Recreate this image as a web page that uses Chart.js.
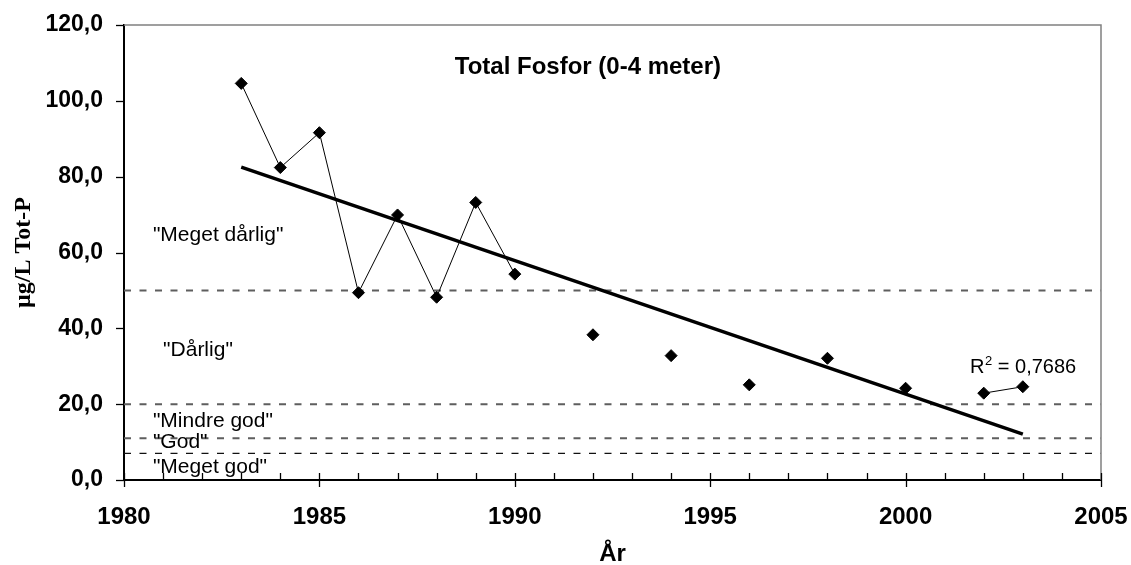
<!DOCTYPE html>
<html>
<head>
<meta charset="utf-8">
<title>Total Fosfor (0-4 meter)</title>
<script src="https://cdn.jsdelivr.net/npm/chart.js@4.4.1/dist/chart.umd.min.js"></script>
<style>
  html, body { margin: 0; padding: 0; background: #ffffff; }
  #wrap { width: 1131px; height: 565px; position: relative; }
</style>
</head>
<body>
<div id="wrap"><canvas id="chart"></canvas></div>
<script>
// Measured total phosphorus, 0-4 m, µg/L (null = no sampling that year)
const years = [1983, 1984, 1985, 1986, 1987, 1988, 1989, 1990, 1991, 1992, 1993,
               1994, 1995, 1996, 1997, 1998, 1999, 2000, 2001, 2002, 2003];
const totP  = [104.6, 82.4, 91.6, 49.4, 69.9, 48.2, 73.2, 54.3, null, 38.3, null,
               32.8, null, 25.1, null, 32.1, null, 24.2, null, 22.9, 24.6];

// Linear trend line end points
const trendYears  = [1983, 2003];
const trendValues = [82.5, 12.1];
const rSquared = '0,7686';

// Water quality class boundaries and class names (top to bottom)
const classLimits = [50, 20, 11, 7];
const classNames = ['"Meget dårlig"', '"Dårlig"', '"Mindre god"', '"God"', '"Meget god"'];

// Axis tick labels
const yTickValues = [0, 20, 40, 60, 80, 100, 120];
const yTickLabels = ['0,0', '20,0', '40,0', '60,0', '80,0', '100,0', '120,0'];
const xTickValues = [1980, 1985, 1990, 1995, 2000, 2005];
const xTickLabels = ['1980', '1985', '1990', '1995', '2000', '2005'];

const chartTitle = 'Total Fosfor (0-4 meter)';
const xTitle = 'År';
const yTitle = 'µg/L Tot-P';

const SANS = "'Liberation Sans', Arial, sans-serif";
const SERIF = "'Liberation Serif', 'Times New Roman', serif";

const seriesPoints = years.map((yr, i) => ({ x: yr, y: totP[i] }));
const trendPoints = trendYears.map((yr, i) => ({ x: yr, y: trendValues[i] }));

const limitDatasets = classLimits.map((v, i) => {
  const last = i === classLimits.length - 1;
  return {
    type: 'line',
    data: [{ x: xTickValues[0], y: v }, { x: xTickValues[xTickValues.length - 1], y: v }],
    borderColor: last ? '#111111' : '#5e5e5e',
    borderWidth: last ? 1.2 : 2,
    borderDash: [7, 8.5],
    pointRadius: 0,
    order: 5
  };
});

// Ticks, plot frame and in-plot text
const decorations = {
  id: 'decorations',
  afterDatasetsDraw(chart) {
    const { ctx, chartArea: a, scales: { x, y } } = chart;
    ctx.save();

    ctx.strokeStyle = '#808080';
    ctx.lineWidth = 1.5;
    ctx.beginPath();
    ctx.moveTo(a.left, a.top);
    ctx.lineTo(a.right, a.top);
    ctx.lineTo(a.right, a.bottom);
    ctx.stroke();

    ctx.strokeStyle = '#000000';
    ctx.lineWidth = 1.3;
    for (let yr = x.min; yr <= x.max; yr++) {
      const px = Math.round(x.getPixelForValue(yr)) + 0.5;
      ctx.beginPath();
      ctx.moveTo(px, a.bottom - 7);
      ctx.lineTo(px, a.bottom + (yr % 5 === 0 ? 7 : 0));
      ctx.stroke();
    }
    yTickValues.forEach(v => {
      const py = Math.round(y.getPixelForValue(v)) + 0.5;
      ctx.beginPath();
      ctx.moveTo(a.left - 8, py);
      ctx.lineTo(a.left, py);
      ctx.stroke();
    });

    ctx.fillStyle = '#000000';
    ctx.textBaseline = 'alphabetic';

    ctx.font = 'bold 24px ' + SANS;
    ctx.textAlign = 'center';
    ctx.fillText(chartTitle, x.getPixelForValue(1991.87), y.getPixelForValue(107.2));

    ctx.font = '21px ' + SANS;
    ctx.textAlign = 'left';
    const labelX = [1980.74, 1981.0, 1980.74, 1980.74, 1980.74];
    const labelY = [63.1, 32.7, 14.0, 8.4, 1.9];
    classNames.forEach((t, i) => {
      ctx.fillText(t, x.getPixelForValue(labelX[i]), y.getPixelForValue(labelY[i]));
    });

    // R² label
    let rx = x.getPixelForValue(2001.65);
    const ry = y.getPixelForValue(28.3);
    ctx.font = '20px ' + SANS;
    ctx.fillText('R', rx, ry);
    rx += ctx.measureText('R').width;
    ctx.font = '13px ' + SANS;
    ctx.fillText('2', rx + 0.5, ry - 8);
    rx += ctx.measureText('2').width + 0.5;
    ctx.font = '20px ' + SANS;
    ctx.fillText(' = ' + rSquared, rx, ry);

    ctx.restore();
  }
};

new Chart(document.getElementById('chart'), {
  type: 'line',
  data: {
    datasets: [
      {
        label: 'Tot-P',
        data: seriesPoints,
        borderColor: '#000000',
        backgroundColor: '#000000',
        borderWidth: 1,
        pointStyle: 'rectRot',
        pointRadius: 6,
        pointBorderWidth: 1,
        spanGaps: false,
        order: 1
      },
      {
        label: 'Trend',
        data: trendPoints,
        borderColor: '#000000',
        borderWidth: 3.5,
        pointRadius: 0,
        order: 2
      },
      ...limitDatasets
    ]
  },
  options: {
    responsive: true,
    maintainAspectRatio: false,
    animation: false,
    layout: { padding: { top: 25, right: 30, left: 0, bottom: 0 } },
    plugins: {
      legend: { display: false },
      tooltip: { enabled: false },
      title: { display: false }
    },
    elements: { line: { tension: 0 } },
    scales: {
      x: {
        type: 'linear',
        min: 1980,
        max: 2005,
        afterBuildTicks: s => { s.ticks = xTickValues.map(v => ({ value: v })); },
        ticks: {
          callback: (v) => xTickLabels[xTickValues.indexOf(v)] ?? '',
          color: '#000000',
          font: { family: SANS, size: 24, weight: 'bold' },
          padding: 23,
          maxRotation: 0,
          autoSkip: false
        },
        grid: { display: false, drawTicks: false },
        border: { display: true, color: '#000000', width: 2 },
        title: {
          display: true,
          text: xTitle,
          color: '#000000',
          font: { family: SANS, size: 24, weight: 'bold', lineHeight: 0.85 },
          padding: { top: 0, bottom: 0 }
        },
        afterFit: s => { s.height = 85; s.paddingLeft = 0; s.paddingRight = 0; }
      },
      y: {
        type: 'linear',
        min: 0,
        max: 120,
        afterBuildTicks: s => { s.ticks = yTickValues.map(v => ({ value: v })); },
        ticks: {
          callback: (v) => yTickLabels[yTickValues.indexOf(v)] ?? '',
          color: '#000000',
          font: { family: SANS, size: 23, weight: 'bold' },
          padding: 21
        },
        grid: { display: false, drawTicks: false },
        border: { display: true, color: '#000000', width: 2 },
        title: {
          display: true,
          text: yTitle,
          color: '#000000',
          font: { family: SERIF, size: 24, weight: 'bold', lineHeight: 1.2 },
          padding: { top: 9, bottom: 0 }
        },
        afterFit: s => { s.width = 124; s.paddingTop = 0; s.paddingBottom = 0; }
      }
    }
  },
  plugins: [decorations]
});
</script>
</body>
</html>
